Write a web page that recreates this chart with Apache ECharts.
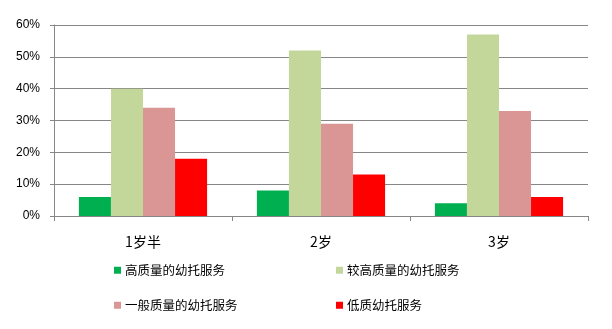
<!DOCTYPE html>
<html><head><meta charset="utf-8">
<script src="https://cdn.jsdelivr.net/npm/echarts@6/dist/echarts.min.js"></script>
<style>html,body{margin:0;padding:0;background:#fff}#c{width:612px;height:329px}</style>
</head><body><div id="c"></div>
<script>
const categories = ['1岁半', '2岁', '3岁'];
const seriesNames = ['高质量的幼托服务', '较高质量的幼托服务', '一般质量的幼托服务', '低质幼托服务'];
const highQuality = [6, 8, 4];
const higherQuality = [40, 52, 57];
const generalQuality = [34, 29, 33];
const lowQuality = [18, 13, 6];
const yTicks = [0, 10, 20, 30, 40, 50, 60];
const colors = ['#00B050', '#C4D79B', '#D99694', '#FF0000'];

const values = [highQuality, higherQuality, generalQuality, lowQuality];
const legendPos = [[109, 259], [331, 259], [109, 294], [331, 294]];
const chart = echarts.init(document.getElementById('c'));
chart.setOption({
  animation: false,
  grid: { left: 54, right: 24, top: 25, bottom: 113 },
  legend: seriesNames.map((n, i) => ({
    data: [n], left: legendPos[i][0], top: legendPos[i][1],
    icon: 'rect', itemWidth: 7, itemHeight: 7, itemGap: 0,
    textStyle: { fontFamily: 'Noto Sans CJK SC', fontSize: 12.5, color: '#000', padding: [0, 0, 0, -1] }
  })),
  xAxis: {
    type: 'category', data: categories,
    axisLine: { lineStyle: { color: '#868686', width: 1 } },
    axisTick: { show: true, length: 5, lineStyle: { color: '#868686' } },
    axisLabel: { color: '#000', fontSize: 14, margin: 19, fontFamily: 'Noto Sans CJK SC' }
  },
  yAxis: {
    type: 'value', min: 0, max: 60, interval: 10,
    axisLine: { show: true, lineStyle: { color: '#868686' } },
    axisTick: { show: true, length: 4, lineStyle: { color: '#868686' } },
    splitLine: { lineStyle: { color: '#868686', width: 1 } },
    axisLabel: { color: '#000', fontSize: 12, margin: 14, fontFamily: 'Liberation Sans',
      formatter: v => yTicks.includes(v) ? v + '%' : '' }
  },
  series: seriesNames.map((n, i) => ({
    name: n, type: 'bar', data: values[i], barGap: '0%', barCategoryGap: '28%',
    itemStyle: { color: colors[i] }
  }))
});
</script></body></html>
